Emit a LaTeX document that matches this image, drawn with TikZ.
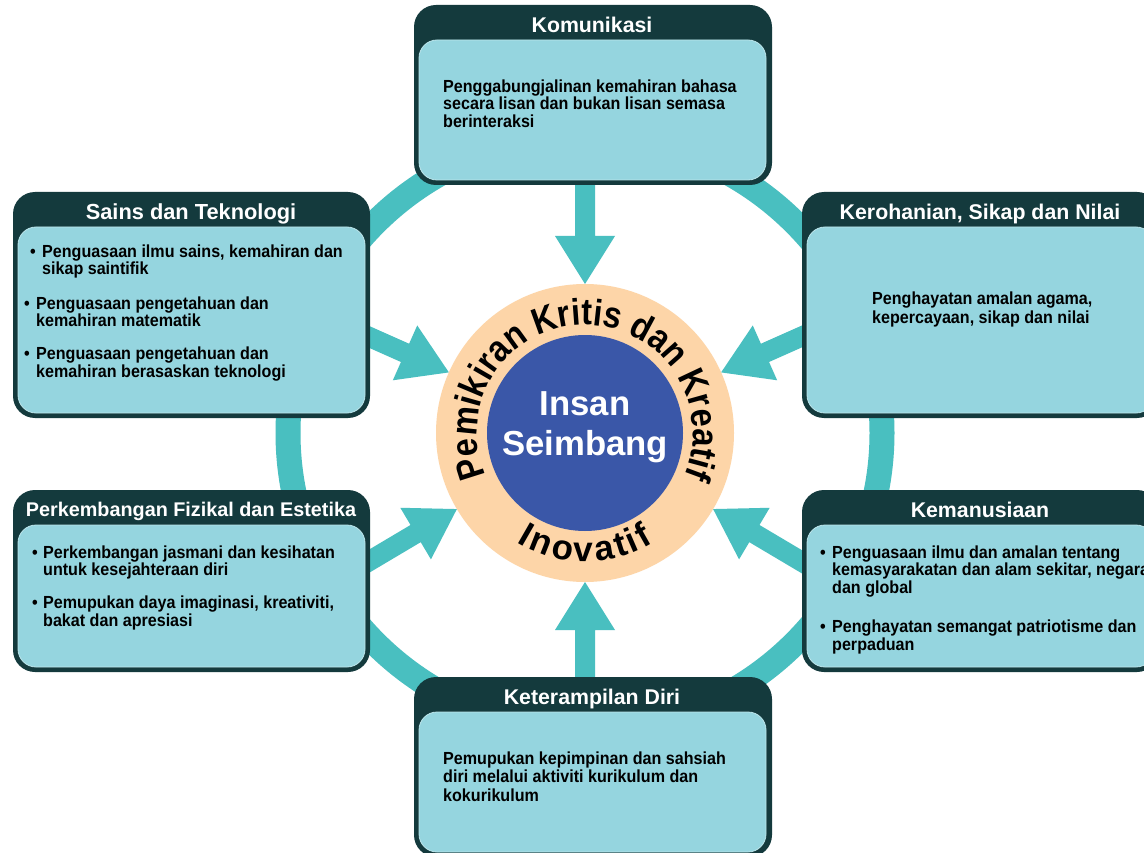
\documentclass[tikz,border=0pt]{standalone}
\usepackage{fontspec}
\setmainfont{Liberation Sans}
\newfontfamily\narrowfont[FakeStretch=0.92]{Liberation Sans}
\newfontfamily\ringtopfont[FakeStretch=0.88]{Liberation Sans}
\usetikzlibrary{decorations.text}
\definecolor{boxdark}{HTML}{143A3D}
\definecolor{boxlight}{HTML}{95D5DF}
\definecolor{boxedge}{HTML}{BDE6EC}
\definecolor{tealring}{HTML}{49BFC0}
\definecolor{peach}{HTML}{FDD5A8}
\definecolor{coreblue}{HTML}{3A57A8}
\newcommand\ringtop{\ringtopfont\bfseries\fontsize{37}{37}\selectfont}
\newcommand\ringbot{\bfseries\fontsize{35}{35}\selectfont}
\newcommand\bul[1]{\makebox[#1][l]{\textbullet}}
\begin{document}
\begin{tikzpicture}[x=1pt,y=-1pt,
  outerbox/.style={rectangle, fill=boxdark, rounded corners=22pt, inner sep=0pt},
  innerbox/.style={rectangle, fill=boxlight, draw=boxedge, line width=0.8pt, rounded corners=18pt, inner sep=0pt},
  headtext/.style={text=white, font=\bfseries\fontsize{21.3}{24}\selectfont, inner sep=0pt, anchor=base},
  bodytext/.style={text=black, font=\narrowfont\bfseries\fontsize{17.5}{17.5}\selectfont, align=left, inner sep=0pt, anchor=north west},
]
\fill[white] (0,0) rectangle (1144,853);
\useasboundingbox (0,0) rectangle (1144,853);

% ring and arrows
\begin{scope}[shift={(585,433)}, y=1pt]
  \draw[tealring, line width=25pt] (0,0) circle (297);
  \foreach \a in {90,24,156,210.7,270,329.3}
    \fill[tealring, rotate=\a] (149,0) -- (197,30) -- (197,10) -- (300,10) -- (300,-10) -- (197,-10) -- (197,-30) -- cycle;
\end{scope}

% Komunikasi
\node[outerbox, minimum width=358, minimum height=180] (komO) at (593,95) {};
\node[innerbox, minimum width=347, minimum height=140] (komI) at (592.5,110) {};
\node[headtext] (komH) at (592,32.7) {Komunikasi};
\node[bodytext] (komB) at (443,79.5) {Penggabungjalinan kemahiran bahasa\\secara lisan dan bukan lisan semasa\\berinteraksi};

% Sains dan Teknologi
\node[outerbox, minimum width=357, minimum height=226] (sainsO) at (191.5,305) {};
\node[innerbox, minimum width=347, minimum height=186] (sainsI) at (191.5,320) {};
\node[headtext, font=\bfseries\fontsize{21.8}{24}\selectfont] (sainsH) at (191,219.6) {Sains dan Teknologi};
\node[bodytext] (sainsB) at (24,244.5) {\hspace{6pt}\bul{12pt}Penguasaan ilmu sains, kemahiran dan\\\hspace{18pt}sikap saintifik\\[17pt]
\bul{12pt}Penguasaan pengetahuan dan\\\hspace{12pt}kemahiran matematik\\[15.5pt]
\bul{12pt}Penguasaan pengetahuan dan\\\hspace{12pt}kemahiran berasaskan teknologi};

% Kerohanian
\node[outerbox, minimum width=357, minimum height=226] (keroO) at (980.5,305) {};
\node[innerbox, minimum width=347, minimum height=186] (keroI) at (980.5,320) {};
\node[headtext] (keroH) at (980,219.6) {Kerohanian, Sikap dan Nilai};
\node[bodytext] (keroB) at (872,291.5) {Penghayatan amalan agama,\\[1.5pt]kepercayaan, sikap dan nilai};

% Perkembangan Fizikal dan Estetika
\node[outerbox, minimum width=357, minimum height=182] (perkO) at (191.5,581) {};
\node[innerbox, minimum width=347, minimum height=142] (perkI) at (191.5,596) {};
\node[headtext, font=\bfseries\fontsize{19.8}{24}\selectfont] (perkH) at (191,516.8) {Perkembangan Fizikal dan Estetika};
\node[bodytext] (perkB) at (32,545.5) {\bul{11pt}Perkembangan jasmani dan kesihatan\\\hspace{11pt}untuk kesejahteraan diri\\[15.5pt]
\bul{11pt}Pemupukan daya imaginasi, kreativiti,\\\hspace{11pt}bakat dan apresiasi};

% Kemanusiaan
\node[outerbox, minimum width=357, minimum height=182] (kemO) at (980.5,581) {};
\node[innerbox, minimum width=347, minimum height=142] (kemI) at (980.5,596) {};
\node[headtext] (kemH) at (980,517.6) {Kemanusiaan};
\node[bodytext] (kemB) at (820,545.5) {\bul{12pt}Penguasaan ilmu dan amalan tentang\\\hspace{12pt}kemasyarakatan dan alam sekitar, negara\\\hspace{12pt}dan global\\[22pt]
\bul{12pt}Penghayatan semangat patriotisme dan\\\hspace{12pt}perpaduan};

% Keterampilan Diri
\node[outerbox, minimum width=358, minimum height=180] (ketO) at (593,767) {};
\node[innerbox, minimum width=347, minimum height=140] (ketI) at (592.5,782) {};
\node[headtext] (ketH) at (592,704.6) {Keterampilan Diri};
\node[bodytext] (ketB) at (443,751.5) {Pemupukan kepimpinan dan sahsiah\\[1pt]diri melalui aktiviti kurikulum dan\\[1pt]kokurikulum};

% centre
\node[circle, fill=peach, minimum size=298, inner sep=0pt] (ring) at (585,433) {};
\node[circle, fill=coreblue, minimum size=196, inner sep=0pt] (core) at (585,433) {};
\node[text=white, font=\bfseries\fontsize{34.7}{40}\selectfont, inner sep=0pt, anchor=base] (insan) at (585,415) {Insan};
\node[text=white, font=\bfseries\fontsize{34.7}{40}\selectfont, inner sep=0pt, anchor=base] (seimbang) at (585,455) {Seimbang};

\begin{scope}[shift={(585,433)}, y=1pt]
  \path[decorate, decoration={text along path, text align=center,
     text={|\ringtop|Pemikiran Kritis dan Kreatif}}] (207:108) arc (207:-27:108);
  \path[decorate, decoration={text along path, text align={fit to path},
     text={|\ringbot|Inovatif}}] (238:129) arc (238:302:129);
\end{scope}
\end{tikzpicture}
\end{document}
